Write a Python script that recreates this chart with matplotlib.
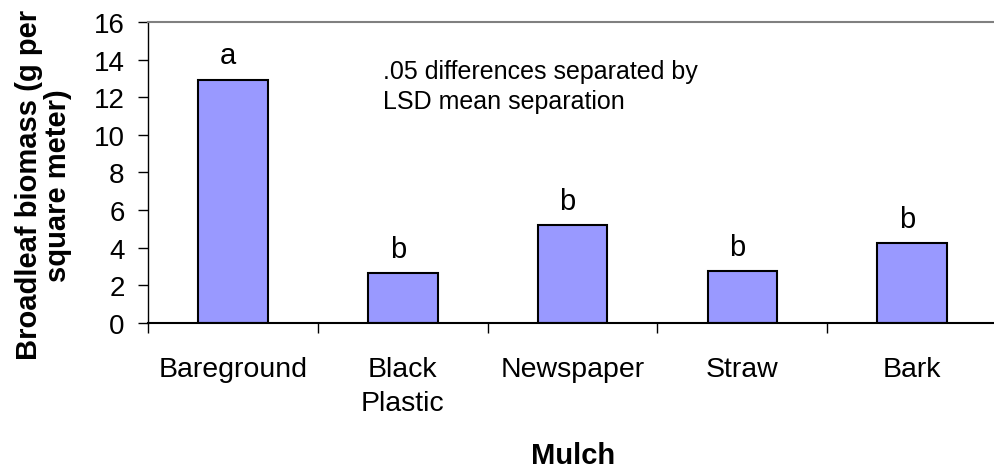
import matplotlib
matplotlib.use("Agg")
import matplotlib.pyplot as plt
import numpy as np

# datos del grafico
mulches = ["Bareground", "Black\nPlastic", "Newspaper", "Straw", "Bark"]
biomass = [12.93, 2.64, 5.18, 2.75, 4.24]
letters = ["a", "b", "b", "b", "b"]
note = ".05 differences separated by\nLSD mean separation"

plt.rcParams["font.family"] = ["Liberation Sans", "DejaVu Sans"]

fig = plt.figure(figsize=(9.95, 4.77), dpi=100)
ax = fig.add_axes([0.149, 0.321, 0.853, 0.631])

x = np.arange(len(mulches))
ax.bar(x, biomass, width=0.41, color="#9999FF", edgecolor="black", linewidth=1.5)

# letras de separacion de medias sobre cada barra
for xi, v, l in zip(x, biomass, letters):
	ax.text(xi - 0.03, v + 0.55, l, ha="center", va="bottom", fontsize=21)

ax.text(0.88, 12.6, note, ha="left", va="center", fontsize=18, linespacing=1.28)

ax.set_xlim(-0.5, 4.5)
ax.set_ylim(0, 16)
ax.set_yticks(range(0, 17, 2))
ax.set_xticks(x)
ax.set_xticklabels(mulches, fontsize=20.5, linespacing=1.4)
ax.set_xticks(np.arange(-0.5, 5, 1), minor=True)
ax.tick_params(axis="x", which="major", length=0, pad=24)
ax.tick_params(axis="x", which="minor", length=7, width=1, direction="out")
ax.tick_params(axis="y", labelsize=20, length=7, width=1, direction="out", pad=10)

ax.spines["right"].set_visible(False)
ax.spines["top"].set_color("#808080")
ax.spines["top"].set_linewidth(1.5)
ax.spines["left"].set_linewidth(1)
ax.spines["bottom"].set_linewidth(1.5)

ax.set_ylabel("Broadleaf biomass (g per\nsquare meter)", fontsize=21, fontweight="bold",
	linespacing=1.05)
ax.yaxis.set_label_coords(-0.09, 0.46)
ax.set_xlabel("Mulch", fontsize=21, fontweight="bold", labelpad=18)

fig.savefig("out.png", dpi=100)
